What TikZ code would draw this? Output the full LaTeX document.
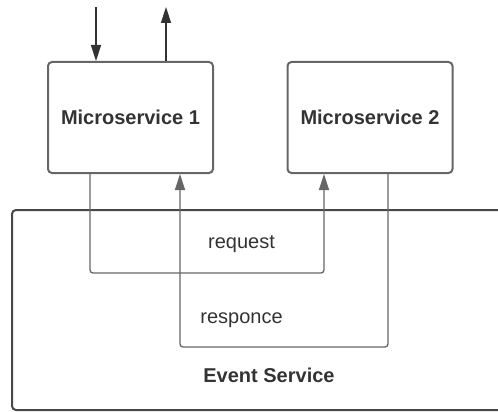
\documentclass[tikz,border=0pt]{standalone}
\usepackage{fontspec}
\setmainfont{Liberation Sans}
\usetikzlibrary{arrows.meta,calc}
\definecolor{boxline}{HTML}{666666}
\definecolor{txt}{HTML}{333333}
\definecolor{conn}{HTML}{666666}
\begin{document}
\begin{tikzpicture}[x=1pt,y=-1pt,
  svc/.style={draw=boxline, line width=2pt, rounded corners=4pt, minimum width=165pt, minimum height=111pt, inner sep=0pt, text=txt, font=\fontsize{20}{23}\selectfont\bfseries},
  link/.style={draw=conn, line width=1.3pt, rounded corners=3pt},
  tip/.style={-{Triangle[width=10pt,length=16pt]}},
  lbl/.style={text=txt, font=\fontsize{20}{23}\selectfont, inner sep=0pt}]
\useasboundingbox (0,0) rectangle (498,412);
% Event service container (open to the right)
\draw[draw=txt!90, line width=2pt, rounded corners=4pt] (500,210) -- (12,210) -- (12,410) -- (500,410);
\node[svc] (ms1) at (130.5,117.5) {Microservice 1};
\node[svc] (ms2) at (370,117.5) {Microservice 2};
\node[lbl, font=\fontsize{20}{23}\selectfont\bfseries] (es) at (269,375) {Event Service};
\node[lbl] (req) at (241.5,244) {request};
\node[lbl] (resp) at (241.5,320) {responce};
\coordinate (in1) at (96,7);
\coordinate (out1) at (166,7);
\draw[tip, draw=txt, line width=1.5pt] (in1) -- (in1 |- ms1.north);
\draw[tip, draw=txt, line width=1.5pt] (out1 |- ms1.north) -- (out1);
\coordinate (rq1) at ($(ms1.south)+(-40.5,0)$);
\coordinate (rq2) at ($(ms2.south)+(-46,0)$);
\draw[link, tip] (rq1) -- (rq1 |- 0,273) -- (rq2 |- 0,273) -- (rq2);
\coordinate (rs1) at ($(ms2.south)+(18,0)$);
\coordinate (rs2) at ($(ms1.south)+(49.5,0)$);
\draw[link, tip] (rs1) -- (rs1 |- 0,347) -- (rs2 |- 0,347) -- (rs2);
\end{tikzpicture}
\end{document}
